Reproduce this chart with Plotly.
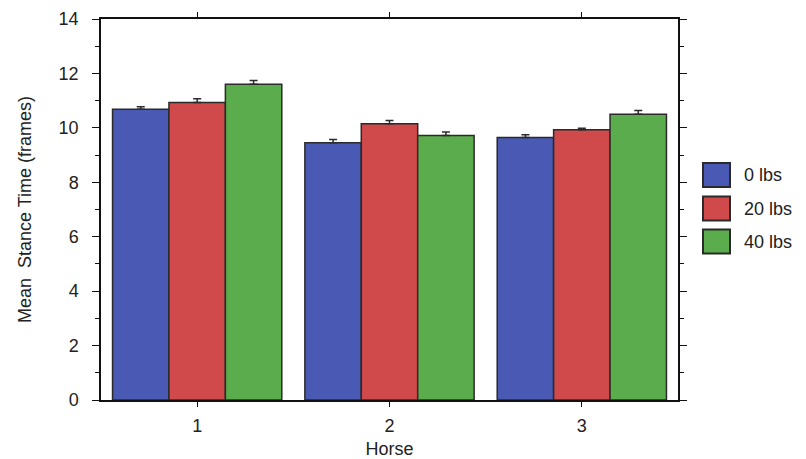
import plotly.graph_objects as go

horses = [1, 2, 3]
tick_labels = ["1", "2", "3"]
series_names = ["0 lbs", "20 lbs", "40 lbs"]
vals_0 = [10.68, 9.45, 9.65]
vals_20 = [10.93, 10.15, 9.93]
vals_40 = [11.6, 9.72, 10.5]
err_0 = [0.1, 0.12, 0.1]
err_20 = [0.14, 0.12, 0.06]
err_40 = [0.14, 0.13, 0.14]

colors = ["#4a5ab4", "#d04a4c", "#5aac4c"]
edge = "#2a2a2a"

# page has an 8px body margin: figure is offset by (8, 8)
W, H = 798, 451
ML, MR, MT, MB = 93, 128, 11, 59
PW, PH = W - ML - MR, H - MT - MB


def px_x(x):  # page x -> paper
    return (x - 8 - ML) / PW


def px_y(y):  # page y -> paper
    return (H - MB - (y - 8)) / PH


fig = go.Figure()
for name, vals, errs, col in zip(series_names, [vals_0, vals_20, vals_40],
                                 [err_0, err_20, err_40], colors):
    fig.add_trace(go.Bar(
        x=horses, y=vals, name=name,
        marker=dict(color=col, line=dict(color=edge, width=1.5)),
        error_y=dict(type="data", symmetric=False, array=errs,
                     arrayminus=[0] * len(errs), color=edge,
                     thickness=1.5, width=4),
        showlegend=False,
    ))

# Custom legend (large swatches like the reference)
leg_y = [175, 208.5, 241.5]
for name, col, yc in zip(series_names, colors, leg_y):
    fig.add_shape(type="rect", xref="paper", yref="paper",
                  x0=px_x(703), x1=px_x(730),
                  y0=px_y(yc + 12), y1=px_y(yc - 12),
                  fillcolor=col, line=dict(color=edge, width=2))
    fig.add_annotation(xref="paper", yref="paper",
                       x=px_x(742), y=px_y(yc),
                       text=name, showarrow=False, xanchor="left",
                       yanchor="middle",
                       font=dict(size=18, color="#222222"))

axis_common = dict(showline=True, linecolor="#111111", linewidth=1.5,
                   mirror="ticks", ticks="outside", tickcolor="#111111",
                   tickwidth=1.2, showgrid=False, zeroline=False,
                   automargin=False,
                   tickfont=dict(size=18, color="#222222"))

fig.update_layout(
    width=W, height=H,
    margin=dict(l=ML, r=MR, t=MT, b=MB, autoexpand=False),
    paper_bgcolor="white", plot_bgcolor="white",
    font=dict(family="Liberation Sans, Arial, sans-serif", color="#222222"),
    barmode="group", bargap=0.12, bargroupgap=0,
    xaxis=dict(range=[0.5, 3.5], tickvals=horses, ticktext=tick_labels,
               ticklen=5, ticklabelstandoff=4,
               title=dict(text="Horse", font=dict(size=18), standoff=9),
               **axis_common),
    yaxis=dict(range=[0, 14], dtick=2, ticklen=7, ticklabelstandoff=10,
               minor=dict(dtick=1, ticks="outside", ticklen=4,
                          tickcolor="#111111"),
               title=dict(text="Mean  Stance Time (frames)",
                          font=dict(size=18), standoff=22),
               **axis_common),
)

fig.write_html("out.html")
